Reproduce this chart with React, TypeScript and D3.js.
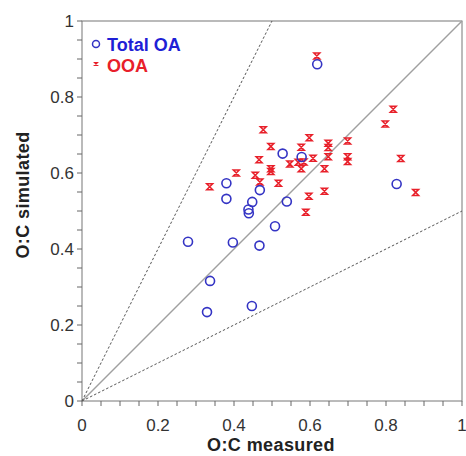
import { scaleLinear, range, line } from 'd3';

// Total OA: measured vs simulated O:C
const totalX = [0.619, 0.828, 0.528, 0.578, 0.380, 0.468, 0.380, 0.448, 0.539, 0.438, 0.439, 0.508, 0.279, 0.397, 0.467, 0.337, 0.329, 0.447];
const totalY = [0.886, 0.571, 0.651, 0.642, 0.573, 0.555, 0.532, 0.524, 0.525, 0.504, 0.494, 0.460, 0.419, 0.417, 0.409, 0.316, 0.234, 0.250];

// OOA
const ooaX = [0.618, 0.819, 0.798, 0.839, 0.878, 0.598, 0.699, 0.648, 0.648, 0.577, 0.648, 0.608, 0.699, 0.699, 0.584, 0.569, 0.547, 0.577, 0.638, 0.597, 0.638, 0.589, 0.477, 0.497, 0.466, 0.497, 0.497, 0.406, 0.456, 0.468, 0.517, 0.336];
const ooaY = [0.908, 0.768, 0.729, 0.638, 0.549, 0.693, 0.684, 0.678, 0.667, 0.668, 0.643, 0.639, 0.643, 0.630, 0.629, 0.628, 0.624, 0.611, 0.611, 0.539, 0.552, 0.497, 0.714, 0.670, 0.635, 0.611, 0.604, 0.600, 0.594, 0.576, 0.573, 0.564];

const tickLabels = ['0', '0.2', '0.4', '0.6', '0.8', '1'];

const width = 466;
const height = 456;
const margin = { top: 21, right: 4, bottom: 55, left: 82 };
const font = 'Arial, "Liberation Sans", sans-serif';
const blue = '#3434c4';
const red = '#e8202a';

const x = scaleLinear().domain([0, 1]).range([margin.left, width - margin.right]);
const y = scaleLinear().domain([0, 1]).range([height - margin.bottom, margin.top]);

const hourglass = (s: number) => `M${-s},${-s}L${s},${-s}L${-s},${s}L${s},${s}Z`;

export default function App() {
  const minor = range(0, 1.0001, 0.05);
  const ref = (k: number) =>
    line<number>()
      .x(v => x(Math.min(1, v)))
      .y(v => y(Math.min(1, v * k)))([0, k > 1 ? 1 / k : 1]) ?? '';

  return (
    <svg width={width} height={height} style={{ position: 'absolute', left: 0, top: 0, background: '#fff' }}>
      {/* frame */}
      <rect x={x(0)} y={y(1)} width={x(1) - x(0)} height={y(0) - y(1)} fill="none" stroke="#777" strokeWidth={1} />

      {minor.map((t, i) => (
        <g key={i} stroke="#666">
          <line x1={x(t)} x2={x(t)} y1={y(0)} y2={y(0) + 5} />
          <line x1={x(0) - 5} x2={x(0)} y1={y(t)} y2={y(t)} />
        </g>
      ))}

      {tickLabels.map((lab, i) => (
        <g key={lab} fontFamily={font} fontSize={17} fill="#333">
          <text x={x(i * 0.2)} y={y(0) + 30} textAnchor="middle">{lab}</text>
          <text x={x(0) - 8} y={y(i * 0.2) + 6} textAnchor="end">{lab}</text>
        </g>
      ))}

      {/* reference lines */}
      <path d={ref(1)} stroke="#a0a0a0" strokeWidth={1.5} fill="none" />
      <path d={ref(2)} stroke="#555" strokeWidth={1} strokeDasharray="2.5 2" fill="none" />
      <path d={ref(0.5)} stroke="#555" strokeWidth={1} strokeDasharray="2.5 2" fill="none" />

      {ooaX.map((v, i) => (
        <path key={`o${i}`} d={hourglass(3)} transform={`translate(${x(v)},${y(ooaY[i])})`} fill="none" stroke={red} strokeWidth={1.5} />
      ))}
      {totalX.map((v, i) => (
        <circle key={`t${i}`} cx={x(v)} cy={y(totalY[i])} r={4.5} fill="none" stroke={blue} strokeWidth={1.6} />
      ))}

      {/* legend */}
      <circle cx={96} cy={44} r={3.5} fill="none" stroke={blue} strokeWidth={1.5} />
      <text x={107} y={51} fontFamily={font} fontSize={18} fontWeight="bold" fill="#1f1fd6">Total OA</text>
      <path d={hourglass(1.5)} transform="translate(96,64)" fill="none" stroke={red} strokeWidth={1.2} />
      <text x={107} y={72} fontFamily={font} fontSize={18} fontWeight="bold" fill={red}>OOA</text>

      {/* axis titles */}
      <text x={271} y={451} textAnchor="middle" fontFamily={font} fontSize={18} letterSpacing={0.4} fontWeight="bold" fill="#222">O:C measured</text>
      <text transform="translate(29,195) rotate(-90)" textAnchor="middle" fontFamily={font} fontSize={18} letterSpacing={0.4} fontWeight="bold" fill="#222">O:C simulated</text>
    </svg>
  );
}
